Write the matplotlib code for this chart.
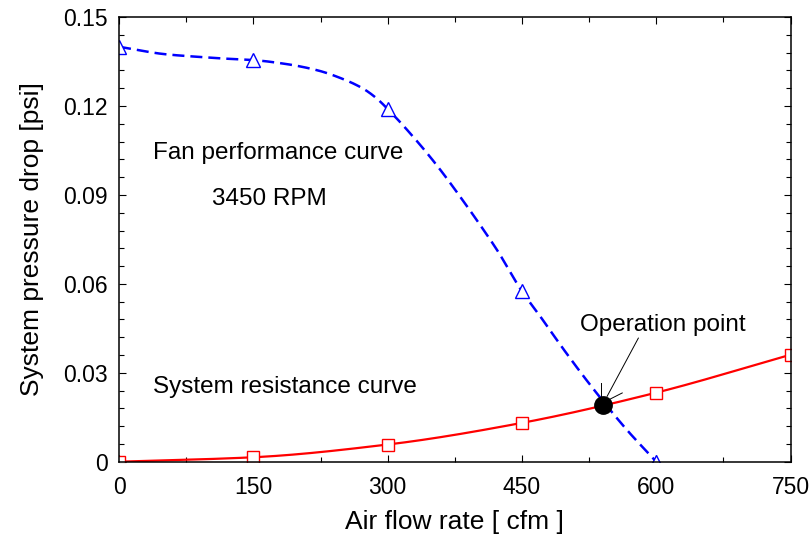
import numpy as np
import matplotlib
matplotlib.use('Agg')
import matplotlib.pyplot as plt
from matplotlib.ticker import MultipleLocator, FormatStrFormatter

plt.rcParams['font.family'] = ['Liberation Sans', 'DejaVu Sans']

# fan curve at 3450 RPM
fan_curve_flow = [0, 51, 88, 118, 150, 184, 221, 251, 273, 288, 300,
                  336, 359, 381, 403, 422, 450, 470, 497, 526, 567, 600]
fan_curve_dp = [0.1400, 0.1375, 0.1366, 0.1360, 0.1355, 0.1343, 0.1321,
                0.1290, 0.1258, 0.1225, 0.1190, 0.1070, 0.0984, 0.0894,
                0.0800, 0.0715, 0.0575, 0.0492, 0.0377, 0.0260, 0.0108, 0.0]

# fan curve markers
fan_flow = [0, 150, 300, 450, 600]
fan_dp = [0.1400, 0.1355, 0.1190, 0.0575, 0.0]

# system resistance curve markers
sys_flow = [0, 150, 300, 450, 600, 750]
sys_dp = [0.0, 0.0015, 0.0058, 0.0131, 0.0233, 0.0361]

# where the two curves cross
op_flow = 540
op_dp = 0.0192


def pchip(x, y, n=400):
    # monotone cubic (Fritsch-Carlson), smooths the line without overshoot
    x = np.asarray(x, float)
    y = np.asarray(y, float)
    h = np.diff(x)
    d = np.diff(y) / h
    m = np.zeros_like(y)
    for i in range(1, len(x) - 1):
        if d[i - 1] * d[i] > 0:
            w1 = 2 * h[i] + h[i - 1]
            w2 = h[i] + 2 * h[i - 1]
            m[i] = (w1 + w2) / (w1 / d[i - 1] + w2 / d[i])
    m[0] = d[0]
    m[-1] = d[-1]
    xs = np.linspace(x[0], x[-1], n)
    k = np.clip(np.searchsorted(x, xs) - 1, 0, len(x) - 2)
    t = (xs - x[k]) / h[k]
    h00 = 2 * t ** 3 - 3 * t ** 2 + 1
    h10 = t ** 3 - 2 * t ** 2 + t
    h01 = -2 * t ** 3 + 3 * t ** 2
    h11 = t ** 3 - t ** 2
    ys = h00 * y[k] + h10 * h[k] * m[k] + h01 * y[k + 1] + h11 * h[k] * m[k + 1]
    return xs, ys


fig = plt.figure(figsize=(8.1, 5.35), dpi=100)
ax = fig.add_axes([0.147, 0.137, 0.829, 0.831])

fx, fy = pchip(fan_curve_flow, fan_curve_dp)
ax.plot(fx, fy, color='#0000ff', lw=1.8, dashes=[4.8, 2.4])
ax.plot(fan_flow, fan_dp, ls='none', marker='^', ms=10, mfc='white',
        mec='#0000ff', mew=1.0)

sx, sy = pchip(sys_flow, sys_dp)
ax.plot(sx, sy, color='#ff0000', lw=1.6)
ax.plot(sys_flow, sys_dp, ls='none', marker='s', ms=9, mfc='white',
        mec='#ff0000', mew=1.0)

ax.plot([op_flow], [op_dp], marker='o', ms=12.5, color='black', zorder=5)

# pointer from the label down to the operation point
ax.plot([580, 545], [0.0417, 0.0220], color='black', lw=0.7)
ax.plot([538, 538], [0.0265, 0.0215], color='black', lw=0.7)
ax.plot([562, 547], [0.0232, 0.0209], color='black', lw=0.7)

txt = dict(fontsize=17.5, va='center')
ax.text(38, 0.1042, 'Fan performance curve', **txt)
ax.text(104, 0.0887, '3450 RPM', **txt)
ax.text(38, 0.0253, 'System resistance curve', **txt)
ax.text(515, 0.0462, 'Operation point', **txt)

ax.set_xlim(0, 750)
ax.set_ylim(0, 0.15)
ax.xaxis.set_major_locator(MultipleLocator(150))
ax.xaxis.set_minor_locator(MultipleLocator(75))
ax.yaxis.set_major_locator(MultipleLocator(0.03))
ax.yaxis.set_minor_locator(MultipleLocator(0.006))
ax.yaxis.set_major_formatter(FormatStrFormatter('%g'))
ax.tick_params(which='both', direction='in', top=True, right=True,
               labelsize=16.5, width=0.8)
ax.tick_params(which='major', length=5)
ax.tick_params(axis='x', which='major', pad=10)
ax.tick_params(axis='y', which='major', pad=8)
ax.tick_params(which='minor', length=3.5)
for s in ax.spines.values():
    s.set_linewidth(1.1)

ax.set_xlabel('Air flow rate [ cfm ]', fontsize=19, labelpad=8)
ax.set_ylabel('System pressure drop [psi]', fontsize=19, labelpad=14)

fig.savefig('out.png', dpi=100)
